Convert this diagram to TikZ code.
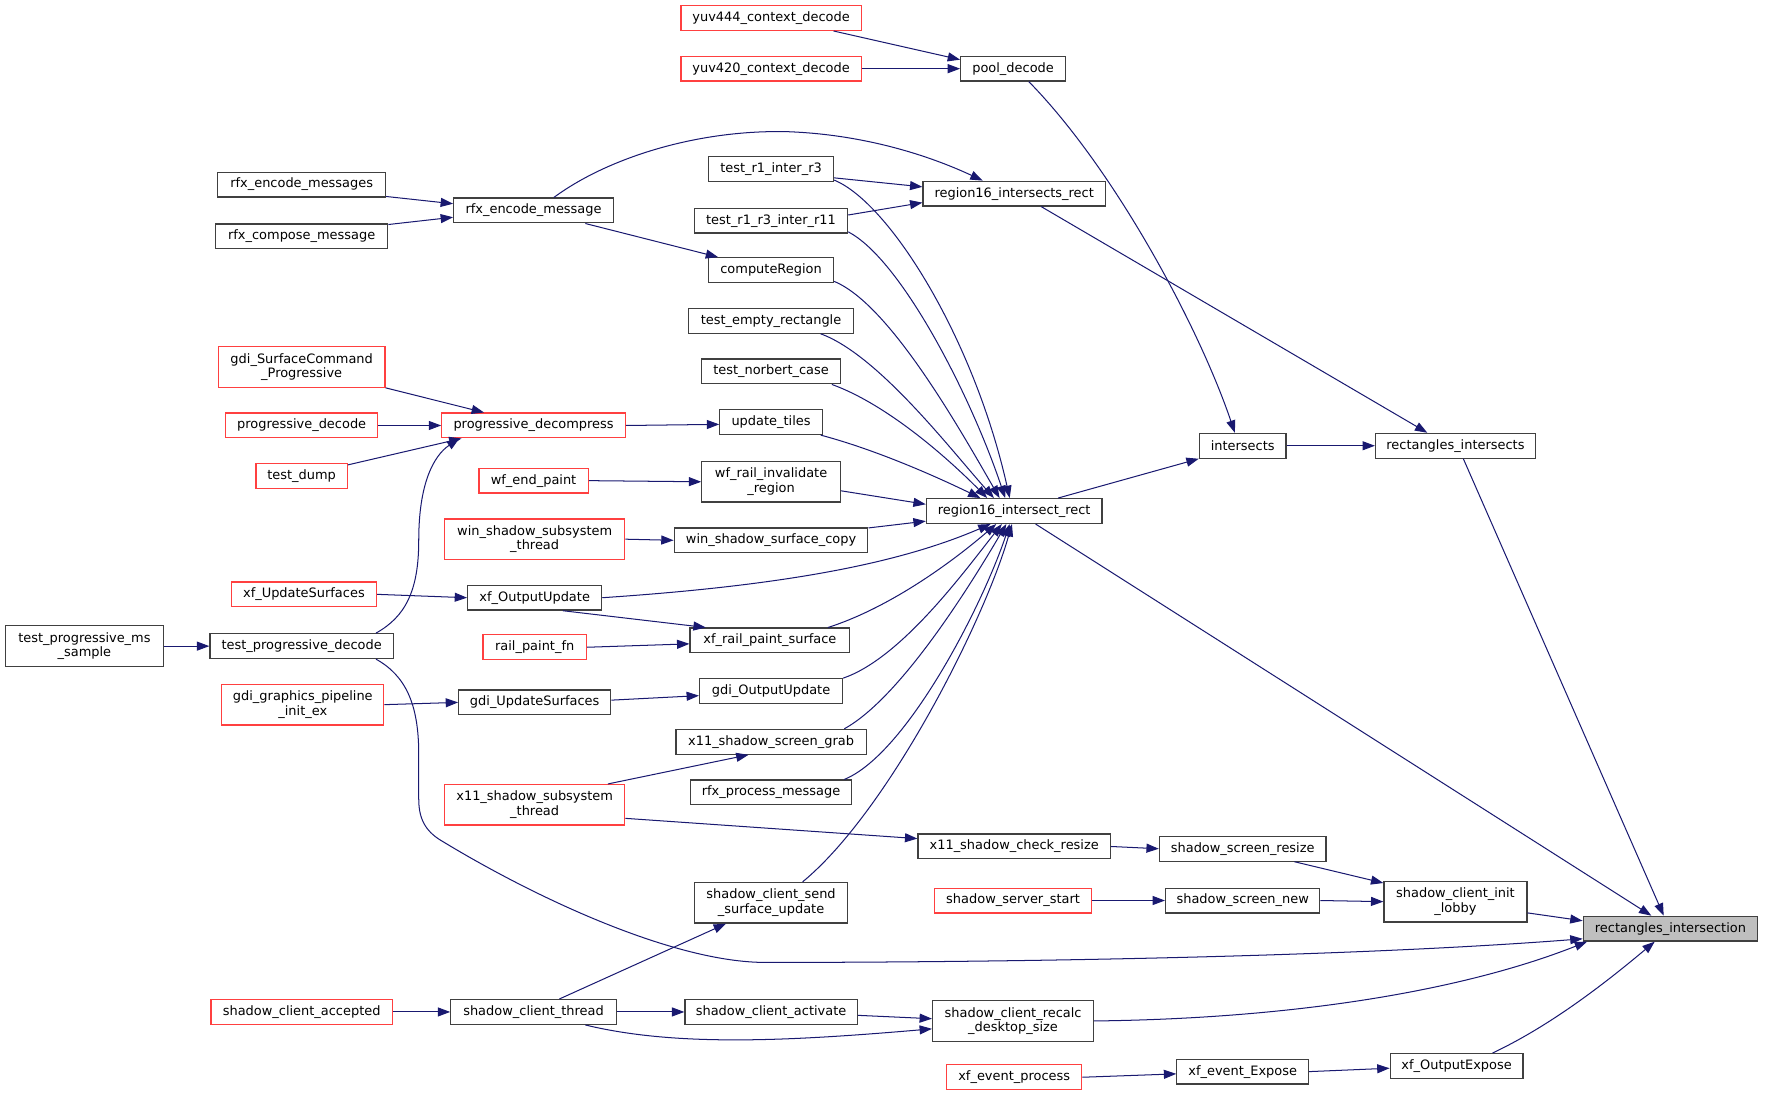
\documentclass[tikz,border=0pt]{standalone}
\usepackage{fontspec}
\setmainfont{DejaVu Sans}
\usetikzlibrary{arrows.meta}
\definecolor{edgeblue}{RGB}{25,25,112}
\definecolor{redb}{RGB}{255,64,64}
\definecolor{boxline}{RGB}{64,64,64}
\definecolor{greyfill}{RGB}{191,191,191}
\tikzset{
  bx/.style={draw=boxline, line width=1.1pt, fill=white, minimum height=22pt, inner sep=0pt, align=center, font=\fontsize{11.5}{13}\selectfont},
  rd/.style={bx, draw=redb},
  tw/.style={minimum height=36pt},
  ed/.style={draw=edgeblue, line width=0.9pt, -{Triangle[length=11pt,width=8pt]}, fill=none}
}
\begin{document}
\begin{tikzpicture}[x=1pt,y=1pt]
\useasboundingbox (0,0) rectangle (1568,-976.3);
% nodes
\node[rd, minimum width=160pt] (y444) at (685,-16) {yuv444\_context\_decode};
\node[rd, minimum width=160pt] (y420) at (685,-61) {yuv420\_context\_decode};
\node[bx, minimum width=93pt] (pool) at (900,-61) {pool\_decode};
\node[bx, minimum width=149pt] (rem) at (268,-164) {rfx\_encode\_messages};
\node[bx, minimum width=153pt] (rcm) at (268,-210) {rfx\_compose\_message};
\node[bx, minimum width=142pt] (re) at (474,-187) {rfx\_encode\_message};
\node[bx, minimum width=111pt] (t13) at (685,-150) {test\_r1\_inter\_r3};
\node[bx, minimum width=136pt] (t1311) at (685,-196) {test\_r1\_r3\_inter\_r11};
\node[bx, minimum width=162pt] (r16s) at (901,-172) {region16\_intersects\_rect};
\node[bx, minimum width=111pt] (cr) at (685,-240) {computeRegion};
\node[bx, minimum width=147pt] (ter) at (685,-285) {test\_empty\_rectangle};
\node[bx, minimum width=123pt] (tnc) at (685,-330) {test\_norbert\_case};
\node[rd, tw, minimum width=148pt] (gscp) at (268,-326) {gdi\_SurfaceCommand\\\_Progressive};
\node[rd, minimum width=135pt] (pd) at (268,-378) {progressive\_decode};
\node[rd, minimum width=163pt] (pdc) at (474,-378) {progressive\_decompress};
\node[bx, minimum width=91pt] (ut) at (685,-375) {update\_tiles};
\node[rd, minimum width=81pt] (td) at (268,-423) {test\_dump};
\node[rd, minimum width=97pt] (wep) at (474,-427) {wf\_end\_paint};
\node[bx, tw, minimum width=123pt] (wri) at (685,-428) {wf\_rail\_invalidate\\\_region};
\node[bx, minimum width=156pt] (r16) at (901,-454) {region16\_intersect\_rect};
\node[bx, minimum width=77pt] (inter) at (1104,-396) {intersects};
\node[bx, minimum width=142pt] (ris) at (1293,-396) {rectangles\_intersects};
\node[rd, tw, minimum width=160pt] (wsst) at (475,-479) {win\_shadow\_subsystem\\\_thread};
\node[bx, minimum width=172pt] (wssc) at (685,-480) {win\_shadow\_surface\_copy};
\node[rd, minimum width=129pt] (xus) at (270,-528) {xf\_UpdateSurfaces};
\node[bx, minimum width=119pt] (xou) at (475,-531) {xf\_OutputUpdate};
\node[bx, tw, minimum width=140pt] (tpms) at (75,-574) {test\_progressive\_ms\\\_sample};
\node[bx, minimum width=163pt] (tpd) at (268,-574) {test\_progressive\_decode};
\node[rd, minimum width=92pt] (rpf) at (475,-575) {rail\_paint\_fn};
\node[bx, minimum width=142pt] (xrps) at (684,-569) {xf\_rail\_paint\_surface};
\node[rd, tw, minimum width=144pt] (ggp) at (269,-626) {gdi\_graphics\_pipeline\\\_init\_ex};
\node[bx, minimum width=135pt] (gus) at (475,-624) {gdi\_UpdateSurfaces};
\node[bx, minimum width=127pt] (gou) at (685,-614) {gdi\_OutputUpdate};
\node[bx, minimum width=169pt] (xssg) at (685,-659) {x11\_shadow\_screen\_grab};
\node[bx, minimum width=143pt] (rpm) at (685,-704) {rfx\_process\_message};
\node[rd, tw, minimum width=160pt] (xsst) at (475,-715) {x11\_shadow\_subsystem\\\_thread};
\node[bx, minimum width=171pt] (xscr) at (901,-752) {x11\_shadow\_check\_resize};
\node[bx, minimum width=148pt] (ssr) at (1104,-754) {shadow\_screen\_resize};
\node[bx, tw, minimum width=136pt] (scss) at (685,-802) {shadow\_client\_send\\\_surface\_update};
\node[rd, minimum width=139pt] (sss) at (900,-800) {shadow\_server\_start};
\node[bx, minimum width=137pt] (ssn) at (1104,-800) {shadow\_screen\_new};
\node[bx, tw, minimum width=127pt] (scil) at (1293,-801) {shadow\_client\_init\\\_lobby};
\node[bx, fill=greyfill, minimum width=155pt] (ri) at (1484,-825) {rectangles\_intersection};
\node[rd, minimum width=161pt] (sca) at (268,-899) {shadow\_client\_accepted};
\node[bx, minimum width=147pt] (sct) at (474,-899) {shadow\_client\_thread};
\node[bx, minimum width=153pt] (scact) at (685,-899) {shadow\_client\_activate};
\node[bx, tw, minimum width=143pt] (scrd) at (900,-907) {shadow\_client\_recalc\\\_desktop\_size};
\node[rd, minimum width=120pt] (xep) at (901,-957) {xf\_event\_process};
\node[bx, minimum width=117pt] (xee) at (1104,-952) {xf\_event\_Expose};
\node[bx, minimum width=118pt] (xoe) at (1294,-947) {xf\_OutputExpose};
% edges
\draw[ed] ([xshift=-25pt]y444.south east) -- ([yshift=8pt]pool.west);
\draw[ed] (y420.east) -- (pool.west);
\draw[ed] ([xshift=14pt]pool.south) .. controls (990,-150) and (1065,-290) .. ([xshift=-7pt]inter.north);
\draw[ed] ([yshift=1pt]rem.south east) -- ([yshift=6pt]re.west);
\draw[ed] ([yshift=-1pt]rcm.north east) -- ([yshift=-6pt]re.west);
\draw[ed] ([xshift=18pt]re.north) .. controls (540,-140) and (620,-115) .. (700,-117) .. controls (780,-120) and (840,-145) .. ([xshift=-28pt]r16s.north);
\draw[ed] ([xshift=46pt]re.south) -- ([xshift=-47pt]cr.north);
\draw[ed] ([yshift=-8pt]t13.east) -- ([yshift=6pt]r16s.west);
\draw[ed] ([yshift=5pt]t1311.east) -- ([yshift=-8pt]r16s.west);
\draw[ed] ([xshift=24pt]r16s.south) -- ([xshift=-25pt]ris.north);
% fan into region16_intersect_rect
\draw[ed] ([yshift=-10pt]t13.east) .. controls (790,-180) and (865,-300) .. ([xshift=-4pt]r16.north);
\draw[ed] ([yshift=-10pt]t1311.east) .. controls (800,-230) and (862,-350) .. ([xshift=-8pt]r16.north);
\draw[ed] ([yshift=-10pt]cr.east) .. controls (790,-270) and (852,-380) .. ([xshift=-13pt]r16.north);
\draw[ed] ([xshift=-30pt]ter.south east) .. controls (780,-315) and (845,-400) .. ([xshift=-18pt]r16.north);
\draw[ed] ([xshift=-8pt]tnc.south east) .. controls (790,-360) and (845,-410) .. ([xshift=-24pt]r16.north);
\draw[ed] ([xshift=-2pt]ut.south east) .. controls (780,-400) and (835,-425) .. ([xshift=-30pt]r16.north);
\draw[ed] ([yshift=-8pt]wri.east) -- ([yshift=6pt]r16.west);
\draw[ed] ([yshift=11pt]wssc.east) -- ([yshift=-9pt]r16.west);
\draw[ed] (xou.east) .. controls (700,-520) and (800,-500) .. ([xshift=-21pt]r16.south);
\draw[ed] ([xshift=-20pt]xrps.north east) .. controls (790,-540) and (845,-500) .. ([xshift=-16pt]r16.south);
\draw[ed] (gou.north east) .. controls (800,-585) and (855,-510) .. ([xshift=-11pt]r16.south);
\draw[ed] ([xshift=-20pt]xssg.north east) .. controls (800,-620) and (862,-520) .. ([xshift=-7pt]r16.south);
\draw[ed] ([xshift=-7pt]rpm.north east) .. controls (805,-670) and (872,-540) .. ([xshift=-4pt]r16.south);
\draw[ed] ([xshift=28pt]scss.north) .. controls (790,-720) and (875,-550) .. ([xshift=-2pt]r16.south);
\draw[ed] ([xshift=39pt]r16.north) -- (inter.south west);
\draw[ed] ([xshift=19pt]r16.south) -- ([xshift=-17pt]ri.north);
\draw[ed] (inter.east) -- (ris.west);
\draw[ed] ([xshift=7pt]ris.south) -- ([xshift=-6pt]ri.north);
% progressive
\draw[ed] (gscp.south east) -- ([xshift=-44pt]pdc.north);
\draw[ed] (pd.east) -- (pdc.west);
\draw[ed] ([yshift=10pt]td.east) -- ([xshift=-64pt]pdc.south);
\draw[ed] ([xshift=66pt]tpd.north) .. controls (360,-548) and (372,-525) .. (372,-480) .. controls (372,-430) and (385,-405) .. ([xshift=-66pt]pdc.south);
\draw[ed] (pdc.east) -- ([yshift=-2pt]ut.west);
\draw[ed] (wep.east) -- (wri.west);
\draw[ed] (wsst.east) -- (wssc.west);
\draw[ed] (xus.east) -- (xou.west);
\draw[ed] ([xshift=25pt]xou.south) -- ([xshift=-57pt]xrps.north);
\draw[ed] (rpf.east) -- ([yshift=-3pt]xrps.west);
\draw[ed] (tpms.east) -- (tpd.west);
\draw[ed] ([xshift=66pt]tpd.south) .. controls (360,-600) and (372,-625) .. (372,-670) -- (372,-710) .. controls (372,-730) and (380,-740) .. (394,-748) .. controls (480,-800) and (600,-855) .. (680,-855) .. controls (900,-855) and (1200,-850) .. ([yshift=-9pt]ri.west);
\draw[ed] (ggp.east) -- (gus.west);
\draw[ed] ([yshift=2pt]gus.east) -- ([yshift=-4pt]gou.west);
\draw[ed] ([xshift=65pt]xsst.north) -- ([xshift=-20pt]xssg.south);
\draw[ed] ([yshift=-12pt]xsst.east) -- ([yshift=7pt]xscr.west);
% shadow
\draw[ed] (xscr.east) -- (ssr.west);
\draw[ed] ([xshift=46pt]ssr.south) -- ([yshift=-2pt]scil.north west);
\draw[ed] (sss.east) -- (ssn.west);
\draw[ed] (ssn.east) -- (scil.west);
\draw[ed] ([yshift=-10pt]scil.east) -- ([yshift=7pt]ri.west);
\draw[ed] (sca.east) -- (sct.west);
\draw[ed] ([xshift=23pt]sct.north) -- ([xshift=-40pt]scss.south);
\draw[ed] (sct.east) -- (scact.west);
\draw[ed] ([xshift=46pt]sct.south) .. controls (600,-930) and (700,-925) .. ([yshift=-7pt]scrd.west);
\draw[ed] ([yshift=-3pt]scact.east) -- ([yshift=2pt]scrd.west);
\draw[ed] (scrd.east) .. controls (1150,-905) and (1300,-880) .. ([xshift=4pt]ri.south west);
\draw[ed] (xep.east) -- ([yshift=-2pt]xee.west);
\draw[ed] (xee.east) -- ([yshift=-2pt]xoe.west);
\draw[ed] ([xshift=32pt]xoe.north) .. controls (1380,-910) and (1430,-870) .. ([xshift=-14pt]ri.south);
\end{tikzpicture}
\end{document}
